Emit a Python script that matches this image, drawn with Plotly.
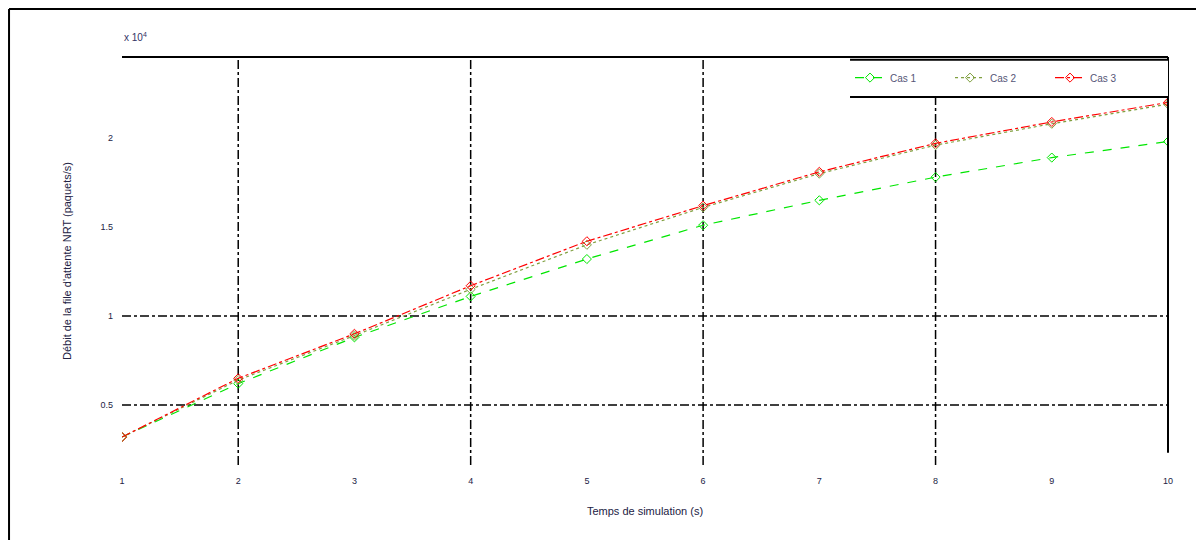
import plotly.graph_objects as go

# Temps de simulation (s)
temps = [1, 2, 3, 4, 5, 6, 7, 8, 9, 10]

# Débit NRT, en unités de 10^4 paquets/s
debit_cas1 = [0.32, 0.62, 0.88, 1.11, 1.32, 1.51, 1.65, 1.78, 1.89, 1.98]
debit_cas2 = [0.32, 0.64, 0.89, 1.15, 1.40, 1.61, 1.80, 1.96, 2.08, 2.19]
debit_cas3 = [0.32, 0.65, 0.90, 1.17, 1.42, 1.62, 1.81, 1.97, 2.09, 2.20]

noms = ["Cas 1", "Cas 2", "Cas 3"]
y_ticks = [0.5, 1, 1.5, 2]
x_grid = [2, 4, 6, 8]
y_grid = [0.5, 1]

fig = go.Figure()

series = [
    (debit_cas1, noms[0], "#00e600", "dash"),
    (debit_cas2, noms[1], "#80a040", "dot"),
    (debit_cas3, noms[2], "#ff0000", "dashdot"),
]
for vals, nom, couleur, tiret in series:
    fig.add_trace(go.Scatter(
        x=temps, y=vals, name=nom, mode="lines+markers",
        line=dict(color=couleur, width=1.2, dash=tiret),
        marker=dict(symbol="diamond-open", size=7, color=couleur, line=dict(width=1)),
    ))

# Grid lines (only those visible in the figure)
for gx in x_grid:
    fig.add_shape(type="line", xref="x", yref="paper", x0=gx, x1=gx, y0=0, y1=1,
                  line=dict(color="black", width=1.5, dash="dashdot"), layer="below")
for gy in y_grid:
    fig.add_shape(type="line", xref="paper", yref="y", x0=0, x1=1, y0=gy, y1=gy,
                  line=dict(color="black", width=1.5, dash="dashdot"), layer="below")

# Top and right axis lines
fig.add_shape(type="line", xref="paper", yref="paper", x0=0, x1=1, y0=1, y1=1,
              line=dict(color="black", width=2))
fig.add_shape(type="line", xref="paper", yref="paper", x0=1, x1=1, y0=0.03, y1=1,
              line=dict(color="black", width=2))

# Legend box (top and bottom rules)
fig.add_shape(type="rect", xref="paper", yref="paper", x0=0.696, x1=1, y0=0.902, y1=0.993,
              fillcolor="white", line=dict(width=0), layer="above")
for ly in (0.993, 0.902):
    fig.add_shape(type="line", xref="paper", yref="paper", x0=0.696, x1=1, y0=ly, y1=ly,
                  line=dict(color="black", width=2))

# Outer frame
fig.add_shape(type="line", xref="paper", yref="paper", x0=-0.108, x1=1.035, y0=1.1176, y1=1.1176,
              line=dict(color="black", width=2))
fig.add_shape(type="line", xref="paper", yref="paper", x0=-0.108, x1=-0.108, y0=1.1176, y1=-0.2,
              line=dict(color="black", width=2))
fig.add_shape(type="line", xref="paper", yref="paper", x0=1.0315, x1=1.0315, y0=1.1176, y1=-0.2,
              line=dict(color="#d8d8d8", width=1))

fig.add_annotation(text="x 10<sup>4</sup>", xref="paper", yref="paper", x=0.0, y=1.03,
                   xanchor="left", yanchor="bottom", showarrow=False,
                   font=dict(size=10, color="#333366"))

# the page adds an 8px body margin, so the figure is 8px smaller on each axis
fig.update_layout(
    width=1196, height=532,
    margin=dict(l=114, r=36, t=49, b=75, autoexpand=False),
    paper_bgcolor="white", plot_bgcolor="white",
    font=dict(family="Liberation Sans, Arial", size=10, color="#222244"),
    showlegend=True,
    legend=dict(
        orientation="h", x=0.696, xanchor="left", y=0.985, yanchor="top",
        entrywidth=55, entrywidthmode="pixels",
        bgcolor="rgba(0,0,0,0)", borderwidth=0,
        font=dict(size=10, color="#555577"),
    ),
    xaxis=dict(
        range=[1, 10], tickvals=temps, showgrid=False, zeroline=False, showline=False,
        ticklabelstandoff=9,
        title=dict(text="Temps de simulation (s)", font=dict(size=11), standoff=22),
        tickfont=dict(size=9),
    ),
    yaxis=dict(
        range=[0.163, 2.455], tickvals=y_ticks, ticktext=["0.5", "1", "1.5", "2"],
        showgrid=False, zeroline=False, showline=False,
        ticklabelstandoff=8,
        title=dict(text="Débit de la file d'attente NRT (paquets/s)", font=dict(size=11), standoff=26),
        tickfont=dict(size=9),
    ),
)

fig.write_html("out.html")
